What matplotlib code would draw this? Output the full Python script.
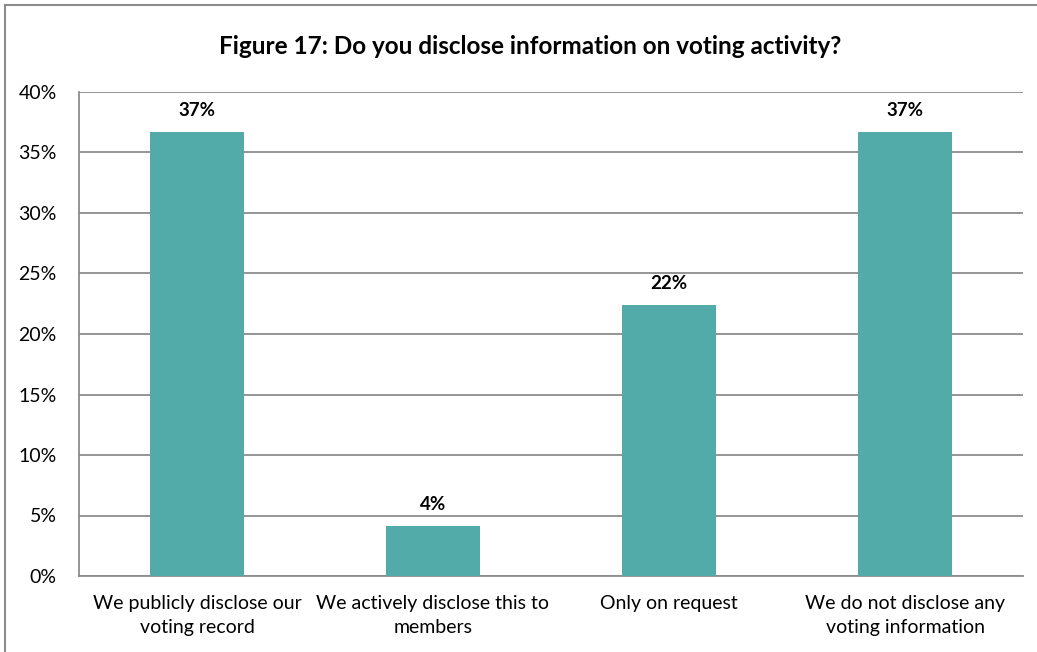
import matplotlib
matplotlib.use("Agg")
import matplotlib.pyplot as plt
from matplotlib.lines import Line2D

plt.rcParams['font.family'] = ['Lato', 'DejaVu Sans']

# data
categories = ["We publicly disclose our\nvoting record",
              "We actively disclose this to\nmembers",
              "Only on request",
              "We do not disclose any\nvoting information"]
shares = [36.7, 4.1, 22.4, 36.7]
yticks = [0, 5, 10, 15, 20, 25, 30, 35, 40]
title = "Figure 17: Do you disclose information on voting activity?"

W, H = 1037, 652
fig = plt.figure(figsize=(W / 100, H / 100), dpi=100)
ax = fig.add_axes([79 / W, (H - 576) / H, 944 / W, 484 / H])

bar_color = "#53ABA9"
grid_color = "#8C8C8C"

x = range(len(categories))
ax.bar(x, shares, width=0.4, color=bar_color, zorder=3)
for xi, v in zip(x, shares):
    ax.text(xi, v + 1.8, f"{v:.0f}%", ha="center", va="center",
            fontsize=13.5, fontweight="bold", zorder=4)

ax.set_xlim(-0.5, len(categories) - 0.5)
ax.set_ylim(0, 40)
ax.set_yticks(yticks)
ax.set_yticklabels([f"{t}%" for t in yticks], fontsize=14)
ax.set_xticks(list(x))
ax.set_xticklabels(categories, fontsize=14, linespacing=1.5)
ax.tick_params(axis="both", length=0)
ax.tick_params(axis="y", pad=16)
ax.tick_params(axis="x", pad=14)
ax.yaxis.grid(True, color=grid_color, linewidth=1.3, zorder=0)

for side in ["top", "right"]:
    ax.spines[side].set_visible(False)
for side in ["left", "bottom"]:
    ax.spines[side].set_color(grid_color)
    ax.spines[side].set_linewidth(1.3)

fig.text(530 / W, 1 - 46 / H, title, ha="center", va="center",
         fontsize=17.5, fontweight="bold")

# chart area outline (left and top edges)
fig.add_artist(Line2D([5 / W, 5 / W], [0, 1 - 5 / H], transform=fig.transFigure,
                      color=grid_color, linewidth=1.5))
fig.add_artist(Line2D([5 / W, 1], [1 - 5 / H, 1 - 5 / H], transform=fig.transFigure,
                      color=grid_color, linewidth=1.5))

fig.savefig("out.png", dpi=100, facecolor="white")
